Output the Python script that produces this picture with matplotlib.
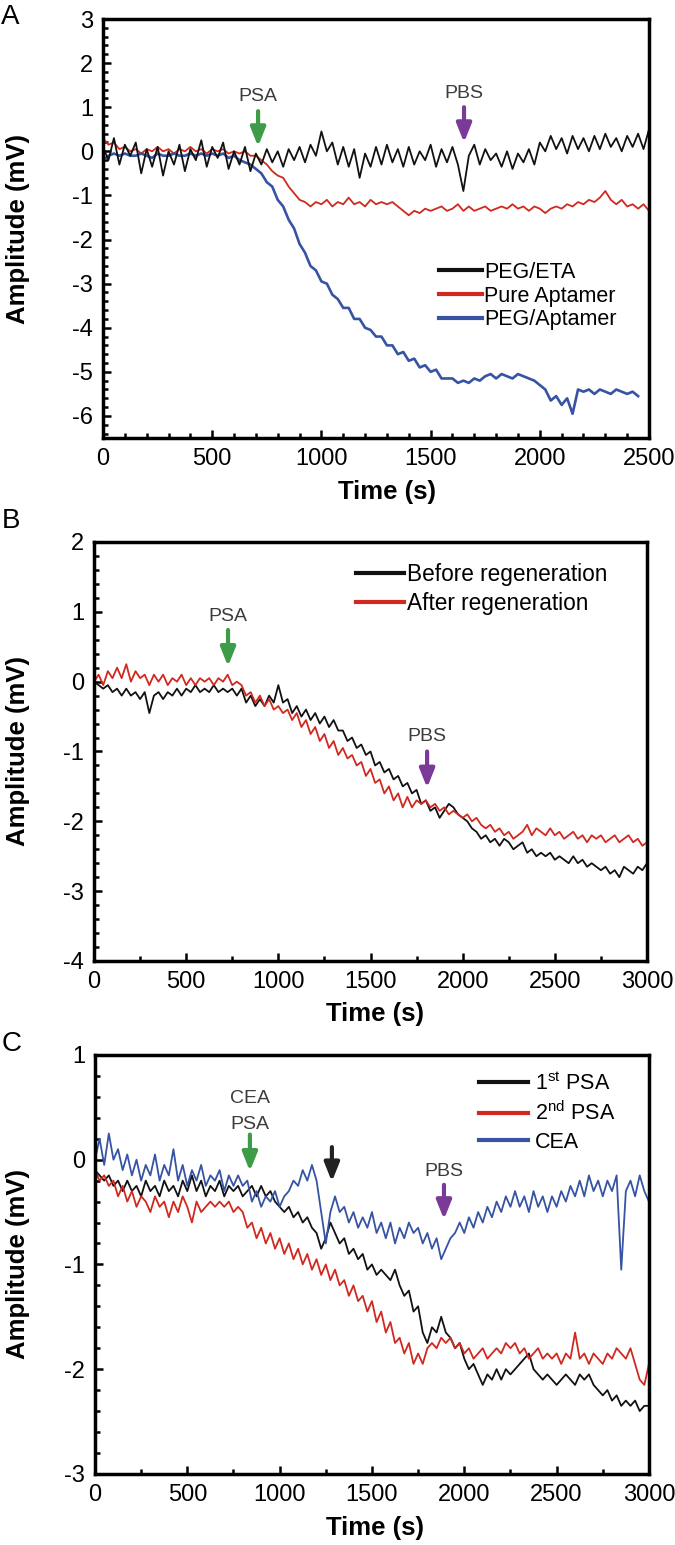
import matplotlib as mpl
mpl.use('Agg')

import matplotlib.pyplot as plt
from matplotlib.ticker import MultipleLocator
import numpy as np

mpl.rcParams.update({
    'font.family': ['Liberation Sans', 'DejaVu Sans'],
    'mathtext.fontset': 'custom',
    'mathtext.rm': 'Liberation Sans',
    'axes.unicode_minus': False,
})

# ---- panel A (sampled every 25 s) ----
peg_eta = [0.1, -0.2, 0.3, -0.3, 0.15, -0.1, 0.2, -0.5, 0.05, -0.35, 0.1, -0.55, 0.0, -0.3, 0.15, -0.45,
           0.05, -0.2, 0.25, -0.35, 0.1, -0.15, 0.2, -0.4, 0.0, -0.3, 0.1, -0.45, -0.05, -0.3, 0.05, -0.25,
           0.0, -0.35, 0.05, -0.2, 0.1, -0.25, 0.15, -0.1, 0.45, 0.0, 0.2, -0.3, 0.1, -0.35, 0.05, -0.6,
           -0.05, -0.35, 0.1, -0.3, 0.15, -0.25, 0.05, -0.35, 0.1, -0.3, 0.0, -0.2, 0.15, -0.35, 0.05, -0.25,
           0.1, -0.3, -0.9, -0.1, 0.15, -0.3, 0.05, -0.2, -0.05, -0.35, 0.0, -0.4, -0.05, -0.25, 0.05, -0.3,
           0.2, 0.0, 0.35, 0.05, 0.3, -0.05, 0.35, 0.05, 0.3, 0.0, 0.35, 0.05, 0.4, 0.1, 0.3, 0.0,
           0.35, 0.1, 0.4, 0.05, 0.5]
pure_apt = [0.3, 0.15, 0.2, 0.05, 0.1, 0.0, 0.05, -0.05, 0.05, 0.0, 0.1, 0.0, 0.05, -0.05, 0.05, 0.0,
            0.1, 0.0, 0.05, -0.05, 0.05, 0.0, 0.05, -0.05, 0.0, -0.05, 0.0, -0.1, -0.1, -0.2, -0.3, -0.45,
            -0.55, -0.6, -0.8, -0.95, -1.1, -1.15, -1.25, -1.15, -1.2, -1.1, -1.25, -1.15, -1.2, -1.05, -1.2, -1.15,
            -1.25, -1.1, -1.2, -1.15, -1.2, -1.15, -1.25, -1.35, -1.45, -1.35, -1.4, -1.3, -1.35, -1.3, -1.25, -1.35,
            -1.3, -1.2, -1.35, -1.25, -1.35, -1.3, -1.25, -1.35, -1.3, -1.25, -1.3, -1.2, -1.3, -1.25, -1.35, -1.25,
            -1.3, -1.4, -1.3, -1.25, -1.3, -1.2, -1.25, -1.15, -1.2, -1.1, -1.15, -1.05, -0.9, -1.1, -1.2, -1.1,
            -1.25, -1.2, -1.3, -1.2, -1.35]
peg_apt = [-0.2, -0.1, -0.05, -0.1, -0.05, -0.1, -0.1, -0.05, -0.1, -0.15, -0.05, -0.1, -0.1, -0.05, -0.1, -0.1,
           -0.05, -0.1, -0.05, -0.1, -0.05, -0.1, -0.05, -0.15, -0.1, -0.2, -0.25, -0.3, -0.4, -0.5, -0.7, -0.8,
           -1.1, -1.25, -1.55, -1.75, -2.1, -2.3, -2.6, -2.7, -2.95, -3.0, -3.25, -3.35, -3.55, -3.55, -3.8, -3.8,
           -4.0, -4.05, -4.2, -4.2, -4.4, -4.4, -4.6, -4.55, -4.75, -4.7, -4.9, -4.85, -5.0, -4.95, -5.15, -5.15,
           -5.15, -5.25, -5.2, -5.25, -5.15, -5.2, -5.1, -5.05, -5.15, -5.05, -5.1, -5.15, -5.05, -5.1, -5.15, -5.2,
           -5.3, -5.4, -5.65, -5.55, -5.75, -5.6, -5.95, -5.4, -5.45, -5.4, -5.5, -5.4, -5.45, -5.5, -5.4, -5.45,
           -5.5, -5.45, -5.55]

# ---- panel B ----
before_regen = [0.0, -0.05, -0.1, -0.05, -0.15, -0.1, -0.2, -0.1, -0.2, -0.15, -0.25, -0.15, -0.45, -0.2, -0.15, -0.25,
                -0.15, -0.2, -0.1, -0.2, -0.1, -0.15, -0.05, -0.15, -0.1, -0.15, -0.05, -0.15, -0.1, -0.15, -0.1, -0.2,
                -0.1, -0.3, -0.2, -0.35, -0.25, -0.35, -0.2, -0.3, -0.05, -0.3, -0.25, -0.45, -0.35, -0.5, -0.4, -0.55,
                -0.45, -0.6, -0.5, -0.65, -0.55, -0.7, -0.7, -0.85, -0.8, -0.95, -0.9, -1.05, -1.0, -1.2, -1.15, -1.3,
                -1.25, -1.4, -1.35, -1.5, -1.45, -1.6, -1.55, -1.75, -1.7, -1.85, -1.8, -1.95,
                -1.85, -1.75, -1.8, -1.9,
                -1.95, -2.0, -2.1, -2.15, -2.25, -2.2, -2.3, -2.25, -2.35, -2.25, -2.3, -2.4, -2.35, -2.3, -2.45, -2.4,
                -2.5, -2.45, -2.5, -2.45, -2.55, -2.5, -2.55, -2.6, -2.5, -2.6, -2.55, -2.65, -2.6, -2.65, -2.7, -2.65,
                -2.75, -2.7, -2.8, -2.65, -2.7, -2.75, -2.65, -2.7, -2.6]
after_regen = [0.0, 0.1, -0.05, 0.15, 0.05, 0.2, 0.05, 0.25, 0.0, 0.15, 0.05, 0.1, -0.05, 0.1, 0.0, 0.1,
               -0.05, 0.05, 0.0, 0.1, -0.05, 0.05, -0.05, 0.05, 0.0, 0.05, -0.05, 0.05, 0.0, 0.1, -0.05, 0.0,
               -0.05, -0.2, -0.15, -0.3, -0.2, -0.35, -0.25, -0.4, -0.35, -0.45, -0.4, -0.55, -0.45, -0.65, -0.55, -0.75,
               -0.65, -0.85, -0.75, -0.95, -0.85, -1.05, -0.95, -1.1, -1.05, -1.2, -1.15, -1.35, -1.25, -1.45, -1.4, -1.6,
               -1.5, -1.7, -1.6, -1.8, -1.65, -1.8, -1.7,
               -1.75, -1.7, -1.8, -1.75, -1.85, -1.8, -1.9, -1.85, -1.9,
               -1.95, -1.9, -2.0, -1.95, -2.05, -2.1, -2.05, -2.15, -2.1, -2.2, -2.15, -2.25, -2.2, -2.15, -2.05, -2.2,
               -2.1, -2.15, -2.2, -2.1, -2.2, -2.15, -2.25, -2.2, -2.15, -2.25, -2.2, -2.3, -2.2, -2.25, -2.2, -2.3,
               -2.25, -2.2, -2.3, -2.25, -2.2, -2.3, -2.25, -2.35, -2.3]

# ---- panel C ----
psa_1st = [-0.1, -0.15, -0.2, -0.15, -0.25, -0.2, -0.3, -0.2, -0.3, -0.25, -0.35, -0.2, -0.3, -0.25, -0.35, -0.2,
           -0.3, -0.25, -0.35, -0.2, -0.3, -0.15, -0.3, -0.2, -0.35, -0.25, -0.3, -0.2, -0.35, -0.25, -0.3, -0.25,
           -0.35, -0.3, -0.25, -0.35, -0.25, -0.35, -0.3, -0.4, -0.45, -0.5, -0.45, -0.55, -0.5, -0.6, -0.55, -0.65,
           -0.7, -0.85, -0.75, -0.6, -0.7, -0.8, -0.75, -0.9, -0.85, -0.95, -0.9, -1.05, -1.0, -1.1, -1.05, -1.1,
           -1.15, -1.05, -1.2, -1.3, -1.25, -1.45, -1.4, -1.65, -1.75, -1.6, -1.65, -1.5, -1.65, -1.7, -1.8, -1.75,
           -1.9, -2.0, -1.95, -2.05, -2.15, -2.05, -2.1, -2.0, -2.1, -2.0, -2.05, -2.0, -1.95, -1.9, -1.85, -2.0,
           -2.05, -2.1, -2.05, -2.1, -2.15, -2.1, -2.05, -2.1, -2.15, -2.05, -2.1, -2.05, -2.15, -2.2, -2.25, -2.2,
           -2.3, -2.25, -2.35, -2.3, -2.35, -2.3, -2.4, -2.35, -2.35]
psa_2nd = [-0.1, -0.2, -0.15, -0.25, -0.2, -0.35, -0.25, -0.4, -0.3, -0.45, -0.35, -0.4, -0.5, -0.35, -0.45, -0.4,
           -0.55, -0.4, -0.5, -0.35, -0.45, -0.6, -0.4, -0.5, -0.45, -0.4, -0.45, -0.4, -0.45, -0.4, -0.5, -0.45,
           -0.5, -0.65, -0.6, -0.75, -0.65, -0.8, -0.7, -0.85, -0.75, -0.9, -0.8, -0.95, -0.85, -1.0, -0.9, -1.05,
           -0.95, -1.1, -1.0, -1.15, -1.05, -1.2, -1.15, -1.3, -1.2, -1.35, -1.3, -1.45, -1.35, -1.55, -1.45, -1.65,
           -1.55, -1.75, -1.7, -1.85, -1.75, -1.95, -1.85, -1.95,
           -1.8, -1.75, -1.8, -1.7, -1.75, -1.7, -1.8, -1.75,
           -1.85, -1.8, -1.9, -1.85, -1.8, -1.9, -1.85, -1.8, -1.85, -1.75, -1.8, -1.75, -1.85, -1.8, -1.9, -1.85,
           -1.8, -1.9, -1.85, -1.9, -1.85, -1.95, -1.85, -1.9, -1.65, -1.9, -1.85, -1.95, -1.85, -1.9, -1.95, -1.85,
           -1.9, -1.8, -1.85, -1.9, -1.8, -1.95, -2.1, -2.15, -1.95]
cea = [0.0, 0.2, -0.05, 0.25, 0.0, 0.1, -0.1, 0.05, -0.15, 0.0, -0.2, -0.05, -0.15, 0.05, -0.2, -0.05,
       -0.15, 0.1, -0.2, -0.05, -0.25, -0.1, -0.2, -0.05, -0.25, -0.15, -0.2, -0.1, -0.3, -0.15, -0.25, -0.15,
       -0.25, -0.2, -0.4, -0.3, -0.45, -0.35, -0.4, -0.3, -0.45, -0.35, -0.3, -0.2, -0.25, -0.1, -0.2, -0.05,
       -0.2, -0.5, -0.8, -0.5, -0.35, -0.5, -0.45, -0.6, -0.5, -0.65, -0.55, -0.65, -0.5, -0.7, -0.6, -0.75,
       -0.6, -0.8, -0.65, -0.75, -0.6, -0.7, -0.65, -0.8, -0.7, -0.85, -0.75, -0.95, -0.85, -0.75, -0.7, -0.6,
       -0.7, -0.55, -0.65, -0.5, -0.6, -0.45, -0.55, -0.4, -0.5, -0.35, -0.45, -0.3, -0.45, -0.35, -0.5, -0.3,
       -0.45, -0.35, -0.5, -0.35, -0.45, -0.3, -0.4, -0.25, -0.35, -0.2, -0.35, -0.15, -0.3, -0.2, -0.35, -0.2,
       -0.3, -0.15, -1.05, -0.3, -0.2, -0.35, -0.15, -0.3, -0.4]

BLACK = '#111111'
RED = '#d1281f'
BLUE = '#3653a4'
GREEN = '#3e9b48'
PURPLE = '#7a3a98'
GRAY = '#3c3c3c'


def t_of(vals):
    return np.arange(len(vals)) * 25


def style_axes(ax, xmax, xminor, ymin, ymax, yminor):
    ax.set_xlim(0, xmax)
    ax.set_ylim(ymin, ymax)
    ax.xaxis.set_major_locator(MultipleLocator(500))
    ax.xaxis.set_minor_locator(MultipleLocator(xminor))
    ax.yaxis.set_major_locator(MultipleLocator(1))
    ax.yaxis.set_minor_locator(MultipleLocator(yminor))
    ax.tick_params(which='both', direction='in', top=False, right=False, width=1.8, labelsize=17)
    ax.tick_params(which='major', length=6, pad=7)
    ax.tick_params(which='minor', length=3.5)
    for s in ax.spines.values():
        s.set_linewidth(2.5)
    ax.set_xlabel('Time (s)', fontsize=18.5, fontweight='bold')
    ax.set_ylabel('Amplitude (mV)', fontsize=18.5, fontweight='bold')


def arrow(ax, x, tail, tip, color):
    ax.annotate('', xy=(x, tip), xytext=(x, tail),
                arrowprops=dict(arrowstyle='-|>,head_length=0.8,head_width=0.32', lw=3,
                                color=color, shrinkA=0, shrinkB=0, mutation_scale=14))


fig = plt.figure(figsize=(6.75, 15.45), dpi=100)

# ---------- A ----------
axA = fig.add_axes([0.1526, 0.7165, 0.8089, 0.2712])
axA.plot(t_of(pure_apt), pure_apt, color=RED, lw=1.3, label='Pure Aptamer')
axA.plot(t_of(peg_apt), peg_apt, color=BLUE, lw=1.9, label='PEG/Aptamer')
axA.plot(t_of(peg_eta), peg_eta, color=BLACK, lw=1.3, label='PEG/ETA')
style_axes(axA, 2500, 100, -6.5, 3, 0.2)
axA.xaxis.set_label_coords(0.52, -0.1)
axA.yaxis.set_label_coords(-0.134, 0.5)
hA, lA = axA.get_legend_handles_labels()
order = [2, 0, 1]
legA = axA.legend([hA[i] for i in order], [lA[i] for i in order], loc='upper left',
                  bbox_to_anchor=(0.615, 0.42), frameon=False, borderpad=0, borderaxespad=0,
                  handlelength=2.0, handletextpad=0.1, labelspacing=0.12, fontsize=15.5)
for ln in legA.get_lines():
    ln.set_linewidth(3)
axA.text(710, 1.25, 'PSA', ha='center', va='center', fontsize=14, color=GRAY)
arrow(axA, 710, 0.91, 0.11, GREEN)
axA.text(1653, 1.3, 'PBS', ha='center', va='center', fontsize=14, color=GRAY)
arrow(axA, 1653, 1.0, 0.2, PURPLE)

# ---------- B ----------
axB = fig.add_axes([0.1393, 0.378, 0.8192, 0.2712])
axB.plot(t_of(before_regen), before_regen, color=BLACK, lw=1.3, label='Before regeneration')
axB.plot(t_of(after_regen), after_regen, color=RED, lw=1.3, label='After regeneration')
style_axes(axB, 3000, 250, -4, 2, 0.2)
axB.xaxis.set_label_coords(0.508, -0.098)
axB.yaxis.set_label_coords(-0.116, 0.5)
legB = axB.legend(loc='upper left', bbox_to_anchor=(0.474, 0.95), frameon=False, borderpad=0,
                  borderaxespad=0, handlelength=2.1, handletextpad=0.15, labelspacing=0.25, fontsize=16.3)
for ln in legB.get_lines():
    ln.set_linewidth(3)
axB.text(727, 0.94, 'PSA', ha='center', va='center', fontsize=14, color=GRAY)
arrow(axB, 727, 0.74, 0.22, GREEN)
axB.text(1807, -0.79, 'PBS', ha='center', va='center', fontsize=14, color=GRAY)
arrow(axB, 1807, -1.0, -1.52, PURPLE)

# ---------- C ----------
axC = fig.add_axes([0.1407, 0.046, 0.8207, 0.2712])
axC.plot(t_of(psa_1st), psa_1st, color=BLACK, lw=1.3, label='1$^{\\mathrm{st}}$ PSA')
axC.plot(t_of(psa_2nd), psa_2nd, color=RED, lw=1.3, label='2$^{\\mathrm{nd}}$ PSA')
axC.plot(t_of(cea), cea, color=BLUE, lw=1.3, label='CEA')
style_axes(axC, 3000, 250, -3, 1, 0.2)
axC.xaxis.set_label_coords(0.505, -0.1)
axC.yaxis.set_label_coords(-0.117, 0.5)
legC = axC.legend(loc='upper left', bbox_to_anchor=(0.693, 0.96), frameon=False, borderpad=0,
                  borderaxespad=0, handlelength=2.3, handletextpad=0.3, labelspacing=0.32, fontsize=15.5)
for ln in legC.get_lines():
    ln.set_linewidth(3)
axC.text(839, 0.58, 'CEA', ha='center', va='center', fontsize=14, color=GRAY)
axC.text(839, 0.34, 'PSA', ha='center', va='center', fontsize=14, color=GRAY)
arrow(axC, 839, 0.24, -0.11, GREEN)
arrow(axC, 1283, 0.12, -0.21, '#222222')
axC.text(1890, -0.11, 'PBS', ha='center', va='center', fontsize=14, color=GRAY)
arrow(axC, 1890, -0.24, -0.57, PURPLE)

# panel letters
fig.text(0.002, 1 - 4 / 1545, 'A', fontsize=20, va='top', ha='left')
fig.text(0.002, 1 - 508 / 1545, 'B', fontsize=20, va='top', ha='left')
fig.text(0.002, 1 - 1031 / 1545, 'C', fontsize=20, va='top', ha='left')

fig.savefig('out.png', dpi=100)
